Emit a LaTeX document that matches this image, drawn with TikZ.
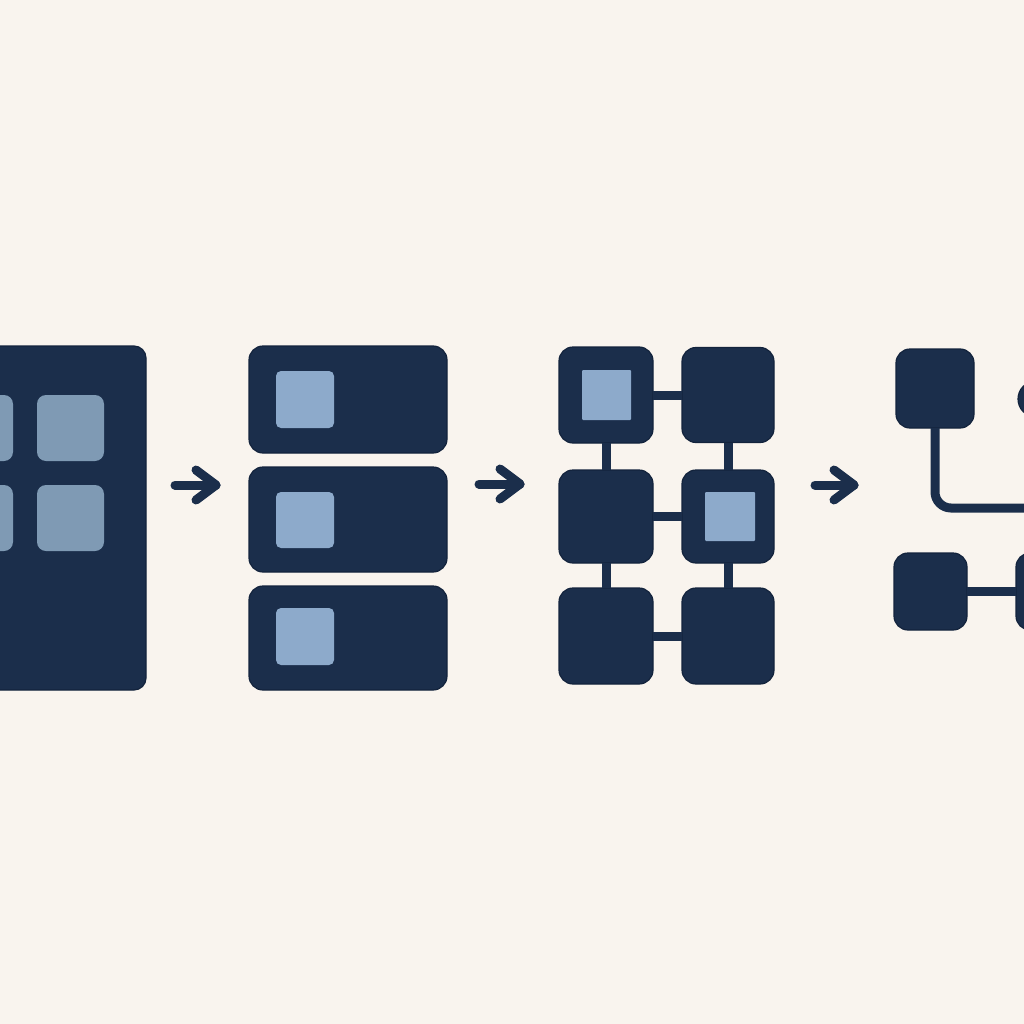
\documentclass[tikz,border=0pt]{standalone}
\usetikzlibrary{calc}
\definecolor{bg}{HTML}{F9F4EE}
\definecolor{navy}{HTML}{1B2E4B}
\definecolor{navyedge}{HTML}{13233C}
\definecolor{lite}{HTML}{8DAACB}
\definecolor{greylite}{HTML}{7F9AB4}
\tikzset{
  dbox/.style={draw=navyedge, line width=1.2pt, fill=navy, rectangle, rounded corners=14pt, inner sep=0pt, outer sep=0pt},
  lbox/.style={fill=lite, rectangle, rounded corners=5pt, inner sep=0pt, outer sep=0pt},
  gbox/.style={fill=greylite, rectangle, rounded corners=9pt, inner sep=0pt, outer sep=0pt},
  link/.style={draw=navy, line width=9pt},
  arrowline/.style={draw=navy, line width=9pt, line cap=round, line join=round},
}
\begin{document}
\begin{tikzpicture}[x=1pt,y=-1pt]
\fill[bg] (0,0) rectangle (1024,1024);
\useasboundingbox (0,0) rectangle (1024,1024);
\clip (0,0) rectangle (1024,1024);
% panel 1
\node[dbox, rounded corners=12pt, minimum width=196pt, minimum height=344pt] (big) at (48,518) {};
\node[gbox, minimum width=67pt, minimum height=66pt] (g1) at (70.5,428) {};
\node[gbox, minimum width=67pt, minimum height=66pt] (g2) at (70.5,518) {};
\node[gbox, minimum width=67pt, minimum height=66pt] (g3) at (-20.5,428) {};
\node[gbox, minimum width=67pt, minimum height=66pt] (g4) at (-20.5,518) {};
% arrow 1
\coordinate (a1s) at (175,485);
\coordinate (a1e) at (216,485);
\draw[arrowline] (a1s) -- (a1e);
\draw[arrowline] ($(a1e)+(-20,-15)$) -- (a1e) -- ($(a1e)+(-20,15)$);
% panel 2
\node[dbox, minimum width=198pt, minimum height=107pt] (r1) at (348,399.5) {};
\node[dbox, minimum width=198pt, minimum height=105pt] (r2) at (348,519.5) {};
\node[dbox, minimum width=198pt, minimum height=104pt] (r3) at (348,638) {};
\node[lbox, minimum width=58pt, minimum height=57pt] (q1) at (305,399.5) {};
\node[lbox, minimum width=58pt, minimum height=56pt] (q2) at (305,520) {};
\node[lbox, minimum width=58pt, minimum height=57pt] (q3) at (305,636.5) {};
% arrow 2
\coordinate (a2s) at (479,484);
\coordinate (a2e) at (520,484);
\draw[arrowline] (a2s) -- (a2e);
\draw[arrowline] ($(a2e)+(-20,-15)$) -- (a2e) -- ($(a2e)+(-20,15)$);
% panel 3
\node[dbox, minimum width=94pt, minimum height=96pt] (b11) at (606,395) {};
\node[dbox, minimum width=92pt, minimum height=95pt] (b12) at (728,395) {};
\node[dbox, minimum width=94pt, minimum height=93pt] (b21) at (606,516.5) {};
\node[dbox, minimum width=92pt, minimum height=93pt] (b22) at (728,516.5) {};
\node[dbox, minimum width=94pt, minimum height=96pt] (b31) at (606,636) {};
\node[dbox, minimum width=92pt, minimum height=96pt] (b32) at (728,636) {};
\node[lbox, rounded corners=1pt, minimum width=49pt, minimum height=50pt] (s1) at (606.5,395) {};
\node[lbox, rounded corners=1pt, minimum width=50pt, minimum height=49pt] (s2) at (730,516.5) {};
\draw[link] (b11) -- (b12);
\draw[link] (b21) -- (b22);
\draw[link] (b31) -- (b32);
\draw[link] (b11) -- (b21);
\draw[link] (b21) -- (b31);
\draw[link] (b12) -- (b22);
\draw[link] (b22) -- (b32);
% arrow 3
\coordinate (a3s) at (815,485);
\coordinate (a3e) at (854,485);
\draw[arrowline] (a3s) -- (a3e);
\draw[arrowline] ($(a3e)+(-20,-15)$) -- (a3e) -- ($(a3e)+(-20,15)$);
% panel 4
\node[dbox, minimum width=78pt, minimum height=79pt] (t1) at (935,388.5) {};
\node[dbox, circle, minimum size=36pt] (c1) at (1036,399) {};
\coordinate (e1) at (1030,508);
\draw[link, rounded corners=16pt] (t1.south) |- (e1);
\node[dbox, minimum width=73pt, minimum height=77pt] (u1) at (930.5,591.5) {};
\node[dbox, minimum width=78pt, minimum height=77pt] (u2) at (1055,591.5) {};
\draw[link] (u1) -- (u2);
\end{tikzpicture}
\end{document}
